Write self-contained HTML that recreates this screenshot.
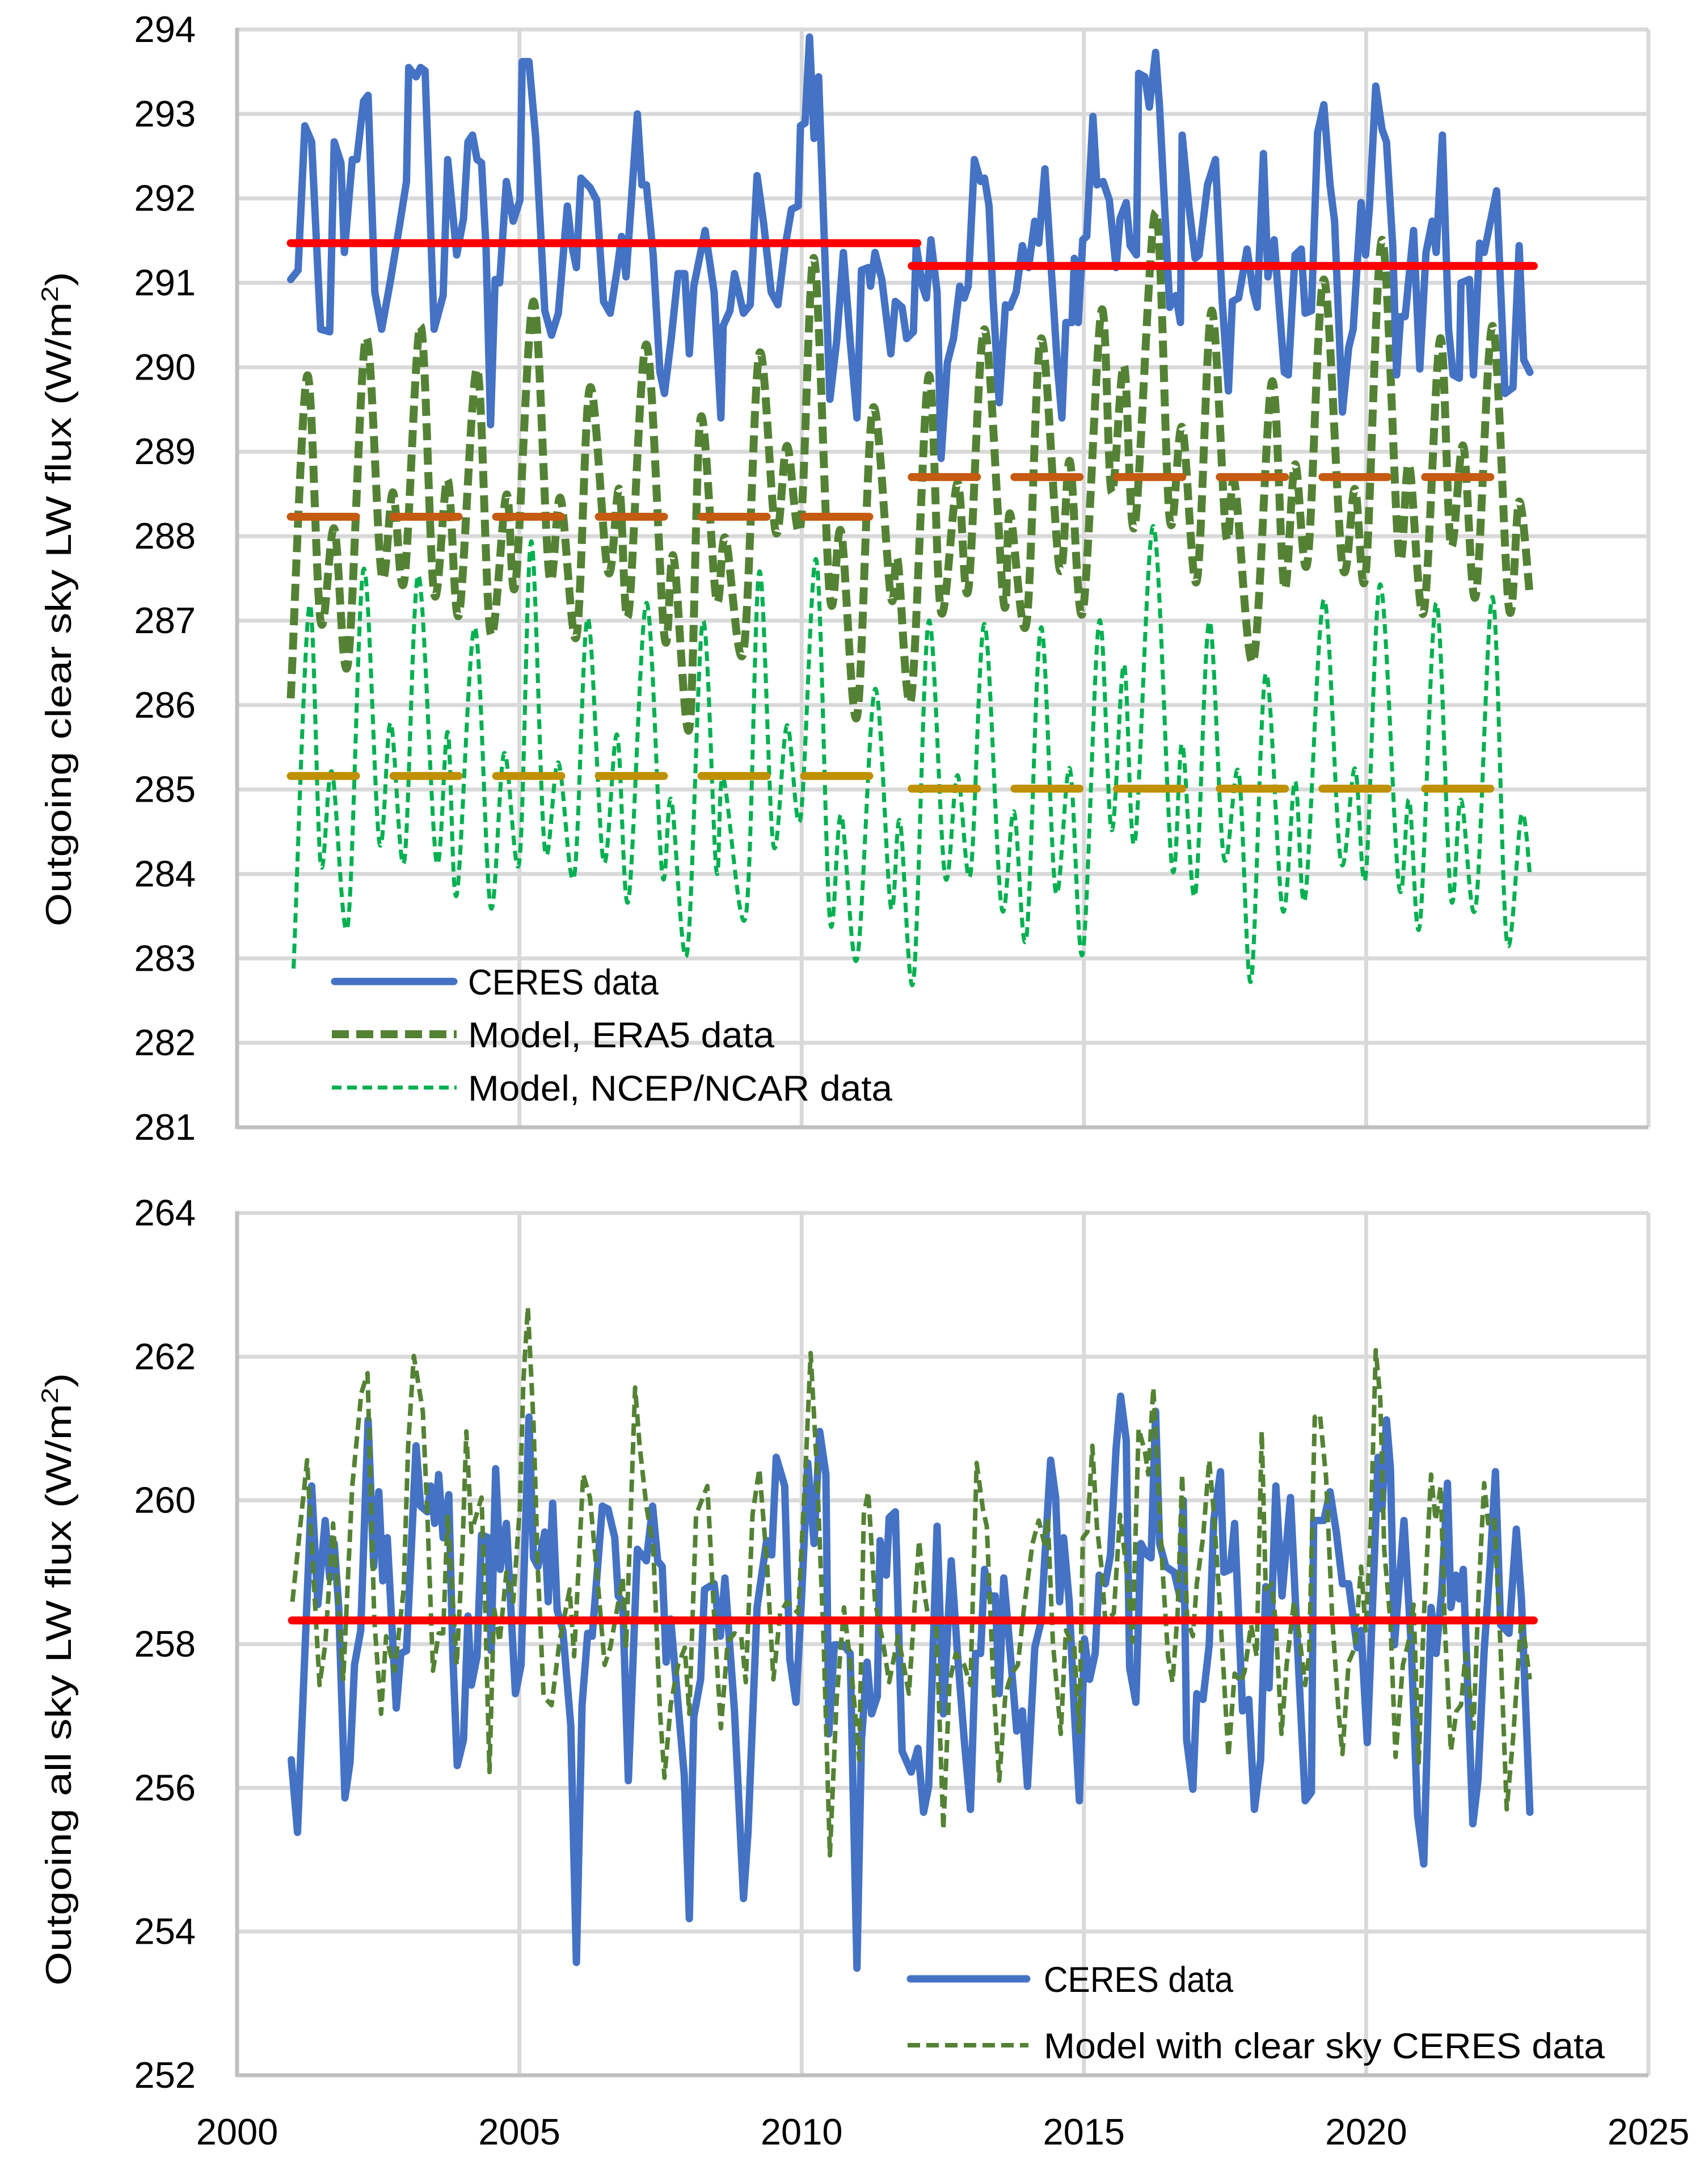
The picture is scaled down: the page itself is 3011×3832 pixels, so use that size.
<!DOCTYPE html>
<html><head><meta charset="utf-8"><style>
html,body{margin:0;padding:0;background:#fff;}
svg{display:block;font-family:"Liberation Sans",sans-serif;}
</style></head><body>
<svg id="chart" width="3011" height="3832" viewBox="0 0 3011 3832" xmlns="http://www.w3.org/2000/svg">
<rect width="3011" height="3832" fill="#fff"/>
<g id="top"></g>
<g id="bot"></g>
</svg>
<script>
const xTickLabels=[2000,2005,2010,2015,2020,2025];
const topYTicks=[294,293,292,291,290,289,288,287,286,285,284,283,282,281];
const botYTicks=[264,262,260,258,256,254,252];

const ceresClearT=[2000.95,2001.08,2001.20,2001.32,2001.48,2001.64,2001.72,2001.84,2001.90,2002.04,2002.12,2002.24,2002.32,2002.44,2002.56,2002.72,2002.88,2003.00,2003.04,2003.17,2003.25,2003.33,2003.49,2003.65,2003.73,2003.89,2004.01,2004.09,2004.17,2004.25,2004.33,2004.41,2004.49,2004.57,2004.65,2004.77,2004.89,2005.01,2005.05,2005.17,2005.29,2005.45,2005.57,2005.69,2005.85,2005.93,2006.01,2006.09,2006.25,2006.37,2006.49,2006.61,2006.73,2006.81,2006.89,2007.09,2007.17,2007.25,2007.37,2007.49,2007.57,2007.69,2007.81,2007.93,2008.01,2008.09,2008.29,2008.45,2008.57,2008.61,2008.73,2008.81,2008.97,2009.09,2009.21,2009.33,2009.46,2009.58,2009.70,2009.82,2009.94,2009.98,2010.06,2010.14,2010.22,2010.30,2010.50,2010.62,2010.74,2010.86,2010.98,2011.06,2011.18,2011.22,2011.30,2011.42,2011.58,2011.66,2011.78,2011.86,2011.98,
2012.03,2012.14,2012.21,2012.29,2012.40,2012.47,2012.58,2012.69,2012.80,2012.88,2012.95,2013.06,2013.17,2013.24,2013.32,2013.39,2013.50,2013.61,2013.69,2013.80,2013.91,2014.02,2014.13,2014.20,2014.31,2014.42,2014.53,2014.61,2014.68,2014.79,2014.83,2014.90,2014.98,2015.05,2015.16,2015.23,2015.34,2015.45,2015.57,2015.64,2015.75,2015.82,2015.93,2015.97,2016.08,2016.16,2016.27,2016.34,2016.52,2016.63,2016.71,2016.74,2016.86,2016.97,2017.04,2017.19,2017.33,2017.45,2017.56,2017.63,2017.74,2017.89,2018.00,2018.07,2018.18,2018.26,2018.37,2018.55,2018.62,2018.74,2018.85,2018.92,2019.03,2019.14,2019.25,2019.36,2019.44,2019.58,2019.69,2019.77,2019.91,2019.99,2020.06,2020.17,2020.28,2020.36,2020.47,2020.54,2020.61,2020.69,2020.84,2020.95,2021.06,2021.17,2021.24,2021.35,2021.46,2021.54,2021.65,2021.68,2021.83,2021.90,2022.01,2022.09,2022.31,2022.46,2022.60,2022.71,2022.79,2022.90];
const ceresClearV=[291.04,291.15,292.86,292.67,290.45,290.42,292.67,292.42,291.36,292.46,292.46,293.15,293.22,290.89,290.45,291.04,291.69,292.20,293.55,293.44,293.55,293.51,290.45,290.85,292.46,291.33,291.76,292.67,292.75,292.46,292.42,291.40,289.32,291.04,291.00,292.20,291.73,291.98,293.62,293.62,292.71,290.67,290.38,290.64,291.91,291.44,291.18,292.24,292.13,291.98,290.78,290.64,291.15,291.55,291.07,293.00,292.16,292.16,291.33,289.94,289.69,290.34,291.11,291.11,290.16,290.96,291.62,290.89,289.40,290.49,290.67,291.11,290.64,290.74,292.27,291.69,290.89,290.74,291.40,291.87,291.91,292.86,292.89,293.91,292.71,293.44,289.62,290.31,291.36,290.31,289.40,291.15,291.18,290.96,291.36,291.04,290.16,290.78,290.71,290.34,290.42,
291.44,290.96,290.82,291.51,290.89,288.92,290.05,290.34,290.96,290.82,290.96,292.46,292.20,292.24,291.91,290.82,289.58,290.74,290.71,290.89,291.44,291.18,291.73,291.47,292.35,291.18,290.02,289.40,290.53,290.53,291.29,290.53,291.51,291.55,292.97,292.16,292.20,291.98,291.18,291.76,291.95,291.44,291.33,293.48,293.44,293.08,293.73,293.08,290.71,290.85,290.53,292.75,291.91,291.29,291.33,292.16,292.46,290.78,289.72,290.78,290.82,291.40,290.89,290.71,292.53,291.07,291.51,289.94,289.91,291.33,291.40,290.64,290.67,292.78,293.11,292.16,291.73,289.47,290.23,290.45,291.95,291.33,291.91,293.33,292.82,292.67,291.44,289.91,290.60,290.60,291.62,289.98,291.36,291.73,291.36,292.75,290.45,289.91,289.87,291.00,291.04,289.91,291.47,291.36,292.09,289.69,289.76,291.44,290.09,289.94];

const era5T=[2000.95,2001.24,2001.48,2001.72,2001.96,2002.28,2002.56,2002.76,2002.96,2003.25,2003.49,2003.73,2003.93,2004.25,2004.49,2004.77,2004.93,2005.25,2005.53,2005.73,2006.01,2006.25,2006.57,2006.77,2006.93,2007.25,2007.57,2007.73,2008.01,2008.21,2008.49,2008.65,2008.97,2009.25,2009.54,2009.74,2009.98,2010.22,2010.50,2010.70,2010.98,2011.26,2011.58,2011.70,2011.94,2012.25,2012.47,2012.76,2012.95,2013.24,2013.58,2013.69,2013.98,2014.24,2014.57,2014.75,2014.98,2015.31,2015.49,2015.71,2015.90,2016.27,2016.52,2016.74,2017.00,2017.26,2017.52,2017.67,2018.00,2018.33,2018.55,2018.74,2018.96,2019.25,2019.58,2019.80,2019.99,2020.28,2020.58,2020.76,2021.02,2021.31,2021.50,2021.72,2021.94,2022.24,2022.53,2022.71,2022.90];
const era5V=[286.08,289.90,286.99,288.09,286.48,290.34,287.54,288.52,287.47,290.49,287.32,288.67,287.07,289.98,286.85,288.49,287.43,290.78,287.54,288.45,286.81,289.76,287.58,288.56,287.07,290.27,286.81,287.76,285.72,289.40,287.25,287.98,286.63,290.16,288.05,289.07,288.12,291.29,287.29,288.05,285.86,289.51,287.29,287.72,286.08,289.90,287.10,288.63,287.36,290.45,287.21,288.27,286.96,290.34,287.61,288.89,287.10,290.67,288.52,290.02,288.12,291.84,288.20,289.29,287.47,290.67,288.01,288.63,286.52,289.83,287.39,288.85,287.69,291.04,287.65,288.56,287.54,291.51,287.79,288.85,287.10,290.34,287.90,289.07,287.29,290.49,287.14,288.41,287.29];

const ncepT=[2001.00,2001.28,2001.48,2001.68,2001.96,2002.24,2002.52,2002.72,2002.96,2003.21,2003.53,2003.73,2003.89,2004.21,2004.49,2004.73,2005.00,2005.21,2005.45,2005.69,2005.97,2006.21,2006.49,2006.73,2006.93,2007.25,2007.53,2007.69,2007.97,2008.25,2008.49,2008.61,2009.01,2009.25,2009.50,2009.74,2009.98,2010.26,2010.50,2010.70,2010.98,2011.30,2011.58,2011.74,2011.98,2012.25,2012.54,2012.76,2012.99,2013.24,2013.54,2013.76,2013.98,2014.24,2014.50,2014.75,2014.98,2015.27,2015.49,2015.71,2015.90,2016.23,2016.56,2016.74,2016.97,2017.22,2017.48,2017.74,2017.96,2018.22,2018.52,2018.74,2018.92,2019.25,2019.55,2019.80,2019.99,2020.25,2020.58,2020.76,2020.95,2021.24,2021.50,2021.68,2021.94,2022.24,2022.49,2022.75,2022.90];
const ncepV=[282.88,287.18,284.12,285.21,283.39,287.61,284.37,285.79,284.15,287.54,284.15,285.68,283.75,286.92,283.61,285.43,284.15,287.94,284.30,285.32,283.97,287.03,284.15,285.65,283.68,287.21,284.00,284.88,283.06,286.99,284.04,285.14,283.50,287.58,284.34,285.76,284.66,287.72,283.46,284.70,282.99,286.19,283.61,284.63,282.73,286.99,283.97,285.17,284.00,286.96,283.61,284.74,283.24,286.92,283.79,285.25,283.06,286.99,284.52,286.48,284.37,288.12,284.08,285.54,283.75,286.99,284.19,285.21,282.73,286.37,283.57,285.10,283.72,287.25,284.15,285.25,283.97,287.43,283.86,284.88,283.39,287.21,283.72,284.88,283.61,287.28,283.21,284.70,284.00];

const periodStartClear=[2000.95,2011.95];
const periodEndClear=[2012.05,2022.97];
const periodEndModel=[2011.5,2022.45];
const ceresClearMean=[291.47,291.20];
const era5Mean=[288.23,288.70];
const ncepMean=[285.16,285.01];

const ceresAllT=[2000.96,2001.07,2001.20,2001.32,2001.43,2001.56,2001.64,2001.72,2001.80,2001.91,2002.00,2002.08,2002.19,2002.32,2002.42,2002.51,2002.58,2002.66,2002.82,2002.90,2003.00,2003.17,2003.25,2003.37,2003.43,2003.50,2003.57,2003.65,2003.75,2003.82,2003.90,2004.01,2004.09,2004.15,2004.25,2004.33,2004.45,2004.50,2004.58,2004.66,2004.77,2004.93,2005.03,2005.17,2005.25,2005.33,2005.45,2005.51,2005.59,2005.67,2005.77,2005.91,2006.01,2006.11,2006.21,2006.29,2006.47,2006.57,2006.69,2006.75,2006.83,2006.93,2007.09,2007.25,2007.36,2007.45,2007.53,2007.60,2007.68,2007.92,2008.01,2008.09,2008.21,2008.28,2008.45,2008.56,2008.64,2008.81,2008.97,2009.05,2009.21,2009.38,2009.47,2009.55,2009.70,2009.79,2009.90,2010.00,2010.11,2010.22,2010.32,2010.43,2010.48,2010.58,2010.74,2010.86,2010.98,2011.06,2011.16,2011.24,2011.34,2011.39,2011.50,2011.55,2011.66,2011.78,2011.94,
2012.06,2012.16,2012.25,2012.40,2012.51,2012.65,2012.76,2012.88,2012.99,2013.08,2013.17,2013.24,2013.32,2013.43,2013.50,2013.58,2013.65,2013.81,2013.91,2014.00,2014.13,2014.24,2014.41,2014.50,2014.57,2014.64,2014.74,2014.83,2014.92,2015.01,2015.10,2015.20,2015.27,2015.38,2015.47,2015.57,2015.65,2015.75,2015.81,2015.92,2016.01,2016.12,2016.19,2016.27,2016.34,2016.45,2016.60,2016.71,2016.76,2016.82,2016.93,2017.00,2017.11,2017.22,2017.30,2017.42,2017.48,2017.59,2017.67,2017.81,2017.92,2018.02,2018.13,2018.22,2018.28,2018.40,2018.51,2018.66,2018.81,2018.92,2019.03,2019.07,2019.25,2019.36,2019.47,2019.58,2019.69,2019.84,2019.91,2020.02,2020.14,2020.21,2020.28,2020.36,2020.43,2020.50,2020.67,2020.80,2020.91,2021.02,2021.15,2021.24,2021.34,2021.44,2021.50,2021.59,2021.65,2021.72,2021.89,2021.98,2022.09,2022.20,2022.29,2022.38,2022.53,2022.66,2022.75,2022.90];
const ceresAllV=[256.39,255.38,257.87,260.20,258.55,259.72,258.92,259.40,258.52,255.86,256.35,257.71,258.19,261.12,259.08,260.12,258.88,259.48,257.11,257.87,257.91,260.76,259.92,259.84,260.20,259.68,260.36,259.48,260.08,257.87,256.31,256.67,258.39,257.43,257.83,259.52,259.48,257.91,260.44,259.04,259.68,257.31,257.71,261.16,259.20,259.08,259.56,258.59,259.96,258.47,258.19,256.87,253.57,257.15,258.15,258.11,259.92,259.88,259.48,258.67,258.59,256.10,259.32,259.16,259.92,259.16,259.08,257.75,258.35,256.18,254.18,256.99,257.51,258.76,258.84,258.11,258.92,257.07,254.46,255.38,258.51,259.44,259.24,260.60,260.20,257.79,257.19,258.67,260.52,259.40,260.96,260.36,256.75,257.99,257.99,257.87,253.49,256.67,257.75,257.03,257.27,259.44,258.96,259.76,259.84,256.51,256.22,
256.55,255.66,256.02,259.64,257.03,259.16,257.87,256.67,255.70,257.87,257.87,259.04,258.67,258.67,257.31,258.92,258.31,256.79,257.07,256.02,257.95,258.31,260.56,260.04,258.59,259.48,258.59,257.07,255.82,258.07,257.51,257.87,258.96,258.84,259.24,260.72,261.45,260.84,257.67,257.19,259.40,259.24,259.20,261.24,259.40,259.08,259.00,258.63,260.00,256.67,255.98,257.31,257.23,257.99,259.72,260.40,259.00,259.04,259.68,257.07,257.23,255.70,256.39,258.80,257.39,260.20,258.67,260.04,257.55,255.82,255.94,259.72,259.72,260.12,259.56,258.84,258.84,257.95,258.19,256.63,259.08,260.60,259.88,261.12,260.44,257.99,259.72,257.95,255.62,254.94,258.51,257.87,258.76,260.24,258.51,258.96,258.63,259.04,255.50,256.10,257.91,259.16,260.40,258.27,258.15,259.60,258.63,255.66];

const modelAllT=[2000.98,2001.24,2001.46,2001.56,2001.70,2001.88,2002.04,2002.20,2002.31,2002.43,2002.55,2002.64,2002.79,2002.95,2003.03,2003.13,2003.29,2003.37,2003.47,2003.57,2003.65,2003.73,2003.89,2003.99,2004.06,2004.15,2004.21,2004.33,2004.39,2004.47,2004.55,2004.65,2004.77,2004.89,2005.01,2005.07,2005.15,2005.25,2005.33,2005.43,2005.57,2005.71,2005.89,2005.97,2006.13,2006.25,2006.41,2006.51,2006.61,2006.83,2006.89,2007.05,2007.13,2007.25,2007.37,2007.49,2007.57,2007.68,2007.81,2007.93,2008.01,2008.13,2008.33,2008.45,2008.57,2008.69,2008.81,2008.93,2009.01,2009.13,2009.25,2009.39,2009.50,2009.62,2009.74,2009.94,2010.06,2010.16,2010.27,2010.39,2010.50,2010.62,2010.75,2010.90,2011.02,2011.10,2011.18,2011.30,2011.44,2011.55,2011.71,2011.90,2012.00,2012.08,2012.18,2012.26,2012.38,2012.51,2012.62,2012.73,2012.88,2012.99,2013.10,2013.21,2013.28,2013.39,2013.50,2013.61,2013.72,2013.83,2013.94,2014.09,2014.20,2014.30,2014.36,2014.45,2014.59,2014.68,2014.83,2014.92,2014.98,2015.06,2015.15,2015.23,2015.31,2015.38,2015.53,2015.64,2015.75,2015.86,2015.97,2016.08,2016.14,2016.23,2016.30,2016.39,2016.49,2016.57,2016.66,2016.74,2016.83,2016.93,2017.00,2017.11,2017.22,2017.30,2017.41,2017.56,2017.67,2017.78,2017.85,2017.96,2018.06,2018.15,2018.22,2018.33,2018.40,2018.50,2018.59,2018.72,2018.81,2018.92,2018.99,2019.09,2019.18,2019.29,2019.40,2019.51,2019.58,2019.69,2019.80,2019.91,2019.99,2020.08,2020.17,2020.25,2020.32,2020.43,2020.52,2020.65,2020.76,2020.84,2020.93,2021.02,2021.15,2021.23,2021.32,2021.39,2021.50,2021.60,2021.68,2021.76,2021.90,2021.99,2022.09,2022.16,2022.27,2022.38,2022.49,2022.60,2022.75,2022.90];
const modelAllV=[258.59,260.56,257.43,257.99,259.68,257.51,260.20,261.49,261.77,258.35,257.03,258.11,257.63,258.76,260.76,262.01,261.24,259.80,257.63,258.15,258.15,259.80,257.71,259.28,260.96,259.56,259.72,260.04,258.67,256.22,258.51,258.03,259.00,258.59,259.92,261.65,262.69,261.08,259.00,257.27,257.15,258.03,258.76,257.83,260.36,260.04,258.67,257.71,257.95,258.92,257.95,261.57,260.76,259.92,259.36,257.07,256.14,257.15,257.71,257.95,257.03,259.80,260.20,258.39,256.83,258.03,258.15,258.11,257.47,259.80,260.44,259.08,257.51,258.43,258.59,258.43,260.28,262.05,260.44,258.03,255.06,257.23,258.51,257.47,256.39,259.80,260.12,258.59,258.03,257.47,258.11,257.31,258.51,259.44,258.67,258.31,258.35,255.42,257.47,257.87,257.71,257.43,260.52,259.88,259.64,257.55,256.10,257.31,257.59,257.71,258.51,259.40,259.72,259.40,259.76,258.03,256.75,258.19,257.95,256.75,259.48,259.56,260.76,259.64,259.08,258.31,258.43,259.80,259.08,258.03,261.00,260.68,260.36,261.57,260.52,259.08,257.83,257.47,258.43,260.36,258.35,258.11,258.84,259.48,260.56,259.84,258.51,256.43,257.59,257.47,257.63,258.27,257.83,260.96,258.76,258.84,258.27,256.75,257.71,258.59,258.15,257.43,257.87,261.16,261.20,260.32,258.35,257.07,256.47,257.75,257.95,259.08,258.19,259.56,262.09,261.41,259.32,258.31,256.43,257.71,258.07,258.55,256.35,258.35,260.36,259.72,260.20,258.31,256.51,257.07,257.15,257.87,256.83,258.67,260.24,259.68,259.76,257.95,255.70,256.67,258.39,257.51];

const periodStartAll=[2000.97];
const periodEndAll=[2022.97];
const ceresAllMean=[258.33];

const NS="http://www.w3.org/2000/svg";
const X0=418,X1=2906;
function xs(t){return X0+(t-2000)*(X1-X0)/25;}
function yTop(v){return 52+(294-v)*(1987-52)/13;}
function yBot(v){return 2138+(264-v)*(3658-2138)/12;}
function mk(parent,tag,attrs){const e=document.createElementNS(NS,tag);for(const k in attrs)e.setAttribute(k,attrs[k]);parent.appendChild(e);return e;}
function linePath(T,V,ys){let d="";const n=Math.min(T.length,V.length);for(let i=0;i<n;i++)d+=(i?"L":"M")+xs(T[i]).toFixed(1)+" "+ys(V[i]).toFixed(1);return d;}
function smoothPath(T,V,ys){const n=Math.min(T.length,V.length);const P=[];for(let i=0;i<n;i++)P.push([xs(T[i]),ys(V[i])]);let d="M"+P[0][0].toFixed(1)+" "+P[0][1].toFixed(1);
for(let i=0;i<n-1;i++){const p0=P[Math.max(0,i-1)],p1=P[i],p2=P[i+1],p3=P[Math.min(n-1,i+2)];
const c1=[p1[0]+(p2[0]-p0[0])/6,p1[1]+(p2[1]-p0[1])/6],c2=[p2[0]-(p3[0]-p1[0])/6,p2[1]-(p3[1]-p1[1])/6];
d+="C"+c1[0].toFixed(1)+" "+c1[1].toFixed(1)+" "+c2[0].toFixed(1)+" "+c2[1].toFixed(1)+" "+p2[0].toFixed(1)+" "+p2[1].toFixed(1);}return d;}

function frame(g,top,bottom,ticks,ys,withXLabels){
  ticks.forEach(v=>{const y=ys(v);
    const l=mk(g,"line",{x1:X0,x2:X1,y1:y,y2:y,stroke:(y>=bottom-1?"#bfbfbf":"#d9d9d9"),"stroke-width":7});
    
    
    const t=mk(g,"text",{x:345,y:y+22,"text-anchor":"end","font-size":65,fill:"#000"});t.textContent=v;
    
    
  });
  xTickLabels.forEach(yr=>{const x=xs(yr);
    if(yr>2000){const l=mk(g,"line",{x1:x,x2:x,y1:top,y2:bottom,stroke:"#d9d9d9","stroke-width":7});
      
      }
    if(withXLabels){const t=mk(g,"text",{x:x,y:3780,"text-anchor":"middle","font-size":65,fill:"#000"});t.textContent=yr;
      
      }
  });
  const ax=mk(g,"line",{x1:X0,x2:X0,y1:top-3,y2:bottom+3,stroke:"#bfbfbf","stroke-width":7});
  
  
  const bx=mk(g,"line",{x1:X0,x2:X1,y1:bottom,y2:bottom,stroke:"#bfbfbf","stroke-width":7});
  
  
}
function series(g,d,color,w,dash,name){const p=mk(g,"path",{d:d,fill:"none",stroke:color,"stroke-width":w,"stroke-linejoin":"round","stroke-linecap":dash?"butt":"round"});
  if(dash)p.setAttribute("stroke-dasharray",dash);
  
  return p;}
function means(g,S,E,M,ys,color,dash,name){for(let i=0;i<M.length;i++){const y=ys(M[i]);
  const l=mk(g,"line",{x1:xs(S[i]),x2:xs(E[i]),y1:y,y2:y,stroke:color,"stroke-width":14,"stroke-linecap":"round"});
  if(dash)l.setAttribute("stroke-dasharray",dash);
  
  }}
function legendItem(g,x1,x2,y,color,w,dash,label,tx,tl,name){
  const l=mk(g,"line",{x1:x1,x2:x2,y1:y,y2:y,stroke:color,"stroke-width":w,"stroke-linecap":dash?"butt":"round"});
  if(dash)l.setAttribute("stroke-dasharray",dash);
  
  
  const t=mk(g,"text",{x:tx,y:y+23,"font-size":63,fill:"#000",textLength:tl,lengthAdjust:"spacingAndGlyphs"});t.textContent=label;
  
  }
function yTitle(g,cx,cy,len,main){const t=mk(g,"text",{x:0,y:0,"font-size":63,fill:"#000","text-anchor":"middle",transform:`translate(${cx},${cy}) rotate(-90)`,textLength:len,lengthAdjust:"spacingAndGlyphs"});
  t.textContent=main;const s=mk(t,"tspan",{"baseline-shift":"super","font-size":42});s.textContent="2";const s2=mk(t,"tspan",{});s2.textContent=")";
  
  }

const gt=document.getElementById("top"),gb=document.getElementById("bot");
frame(gt,52,1987,topYTicks,yTop,false);
series(gt,smoothPath(ncepT,ncepV,yTop),"#00b050",7,"17 10","ncep-model-line");
series(gt,smoothPath(era5T,era5V,yTop),"#548235",14,"30 13","era5-model-line");
series(gt,linePath(ceresClearT,ceresClearV,yTop),"#4472c4",13,null,"ceres-clear-sky-line");
means(gt,periodStartClear,periodEndModel,ncepMean,yTop,"#bf9000","115 66","ncep-period-mean");
means(gt,periodStartClear,periodEndModel,era5Mean,yTop,"#c55a11","115 66","era5-period-mean");
means(gt,periodStartClear,periodEndClear,ceresClearMean,yTop,"#ff0000",null,"ceres-period-mean");
legendItem(gt,590,800,1730,"#4472c4",13,null,"CERES data",825,336,"legend-ceres");
legendItem(gt,585,805,1823,"#548235",14,"30 13","Model, ERA5 data",825,540,"legend-era5");
legendItem(gt,585,805,1917,"#00b050",7,"17 10","Model, NCEP/NCAR data",825,748,"legend-ncep");
yTitle(gt,125,1056,1154,"Outgoing clear sky LW flux (W/m");

frame(gb,2138,3658,botYTicks,yBot,true);
series(gb,linePath(ceresAllT,ceresAllV,yBot),"#4472c4",13,null,"ceres-all-sky-line");
series(gb,linePath(modelAllT,modelAllV,yBot),"#548235",8,"22 11","model-all-sky-line");
means(gb,periodStartAll,periodEndAll,ceresAllMean,yBot,"#ff0000",null,"ceres-all-sky-mean");
legendItem(gb,1605,1810,3488,"#4472c4",13,null,"CERES data",1840,334,"legend-ceres-all");
legendItem(gb,1600,1813,3605,"#548235",8,"22 11","Model with clear sky CERES data",1840,989,"legend-model-all");
yTitle(gb,125,2960,1080,"Outgoing all sky LW flux (W/m");
</script>
</body></html>
